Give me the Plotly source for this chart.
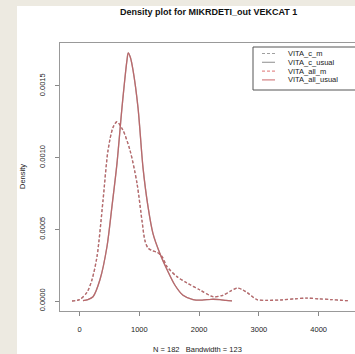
import plotly.graph_objects as go

# ---- data ----
series_names = ["VITA_c_m", "VITA_c_usual", "VITA_all_m", "VITA_all_usual"]

x_m = [-125, 0, 125, 210, 293, 393, 477, 560, 627, 727, 845, 962, 1045, 1095, 1145,
       1220, 1296, 1380, 1463, 1630, 1797, 2015, 2232, 2400, 2530, 2634, 2720, 2800,
       2968, 3150, 3400, 3600, 3800, 4000, 4200, 4400, 4500]
y_m = [0.0, 0.00001, 0.00006, 0.00015, 0.00031, 0.00070, 0.00105, 0.00121, 0.00125,
       0.00119, 0.00105, 0.00082, 0.00056, 0.00042, 0.00037, 0.00035, 0.00034, 0.00031,
       0.00024, 0.00017, 0.000126, 0.000077, 0.00003, 0.00004, 0.00007, 0.00009,
       0.00008, 0.00006, 0.00001, 0.000005, 0.000008, 0.000015, 0.00002, 0.000015,
       0.00001, 0.000004, 0.000002]

x_usual = [58, 140, 226, 343, 460, 543, 627, 711, 794, 815, 850, 895, 978, 1062, 1145,
           1229, 1346, 1463, 1597, 1731, 1898, 2050, 2200, 2350, 2450, 2550]
y_usual = [0.000003, 0.00001, 0.00003, 0.00015, 0.00038, 0.00066, 0.00096, 0.00135,
           0.00168, 0.00173, 0.00170, 0.00161, 0.00135, 0.00093, 0.00066, 0.00047,
           0.00033, 0.00022, 0.00011, 0.00004, 0.00001, 0.000006, 0.000012, 0.000010,
           0.000004, 0.000001]

x_ticks = [0, 1000, 2000, 3000, 4000]
y_ticks = [0.0, 0.0005, 0.0010, 0.0015]
y_tick_labels = ["0.0000", "0.0005", "0.0010", "0.0015"]

title_text = "Density plot for MIKRDETI_out VEKCAT 1"
x_label = "N = 182   Bandwidth = 123"
y_label = "Density"

# ---- styling ----
GRAY = "#a0a0a0"
RED = "rgba(195,85,90,0.75)"
RED_L = "rgba(225,130,130,0.9)"
FONT = "Liberation Sans, Arial, sans-serif"
W, H = 355, 354
L, T, R, B = 60, 43, 355, 311

def px(x):
    return (x - L) / (R - L)

def py(y):
    return (B - y) / (B - T)

fig = go.Figure()
styles = [
    (x_m, y_m, GRAY, "3px,2px"),
    (x_usual, y_usual, GRAY, "solid"),
    (x_m, y_m, RED, "3px,2px"),
    (x_usual, y_usual, RED, "solid"),
]
for name, (xs, ys, col, dash) in zip(series_names, styles):
    fig.add_trace(go.Scatter(x=xs, y=ys, mode="lines", name=name,
                             line=dict(color=col, width=1.3, dash=dash,
                                       shape="spline", smoothing=0.8),
                             showlegend=False, hoverinfo="skip"))

shapes = []
# white page area
shapes.append(dict(type="rect", xref="paper", yref="paper", layer="below",
                   x0=px(17), x1=px(360), y0=py(360), y1=py(6),
                   fillcolor="white", line=dict(width=0)))
# legend box
shapes.append(dict(type="rect", xref="paper", yref="paper",
                   x0=px(253), x1=px(358), y0=py(90), y1=py(47),
                   fillcolor="white", line=dict(color="#555555", width=1)))
annotations = []
leg_cols = [GRAY, GRAY, RED_L, RED]
leg_dash = ["3px,2px", "solid", "3px,2px", "solid"]
for i, name in enumerate(series_names):
    yy = 53.5 + i * 8.8
    shapes.append(dict(type="line", xref="paper", yref="paper",
                       x0=px(262), x1=px(275), y0=py(yy), y1=py(yy),
                       line=dict(color=leg_cols[i], width=1.2, dash=leg_dash[i])))
    annotations.append(dict(x=px(286), y=py(yy), xref="paper", yref="paper",
                            text=name, showarrow=False, xanchor="left", yanchor="middle",
                            font=dict(size=7.5, color="#222222", family=FONT)))

annotations.append(dict(x=px(208), y=py(12), xref="paper", yref="paper",
                        text="<b>" + title_text + "</b>", showarrow=False,
                        xanchor="center", yanchor="middle",
                        font=dict(size=9, color="#111111", family=FONT)))
annotations.append(dict(x=px(197), y=py(349), xref="paper", yref="paper",
                        text=x_label, showarrow=False, xanchor="center", yanchor="middle",
                        font=dict(size=7.5, color="#222222", family=FONT)))
annotations.append(dict(x=px(22), y=py(177), xref="paper", yref="paper",
                        text=y_label, showarrow=False, textangle=-90,
                        xanchor="center", yanchor="middle",
                        font=dict(size=7.5, color="#222222", family=FONT)))

fig.update_layout(
    width=W, height=H,
    margin=dict(l=L, r=W - R, t=T, b=H - B, pad=0),
    paper_bgcolor="#edeae1", plot_bgcolor="white",
    showlegend=False,
    shapes=shapes, annotations=annotations,
    xaxis=dict(range=[-326, 4607], tickvals=x_ticks, ticks="outside", ticklen=4,
               tickcolor="#888888", showgrid=False, zeroline=False,
               showline=True, linecolor="#999999", linewidth=1, mirror=True,
               ticklabelstandoff=7,
               tickfont=dict(size=7.5, color="#222222", family=FONT)),
    yaxis=dict(range=[-0.0000697, 0.001799], tickvals=y_ticks, ticktext=y_tick_labels,
               ticks="outside", ticklen=4, tickcolor="#888888", tickangle=-90,
               showgrid=False, zeroline=False, ticklabelstandoff=7,
               showline=True, linecolor="#999999", linewidth=1, mirror=True,
               tickfont=dict(size=7.5, color="#222222", family=FONT)),
)

fig.write_html("out.html")
